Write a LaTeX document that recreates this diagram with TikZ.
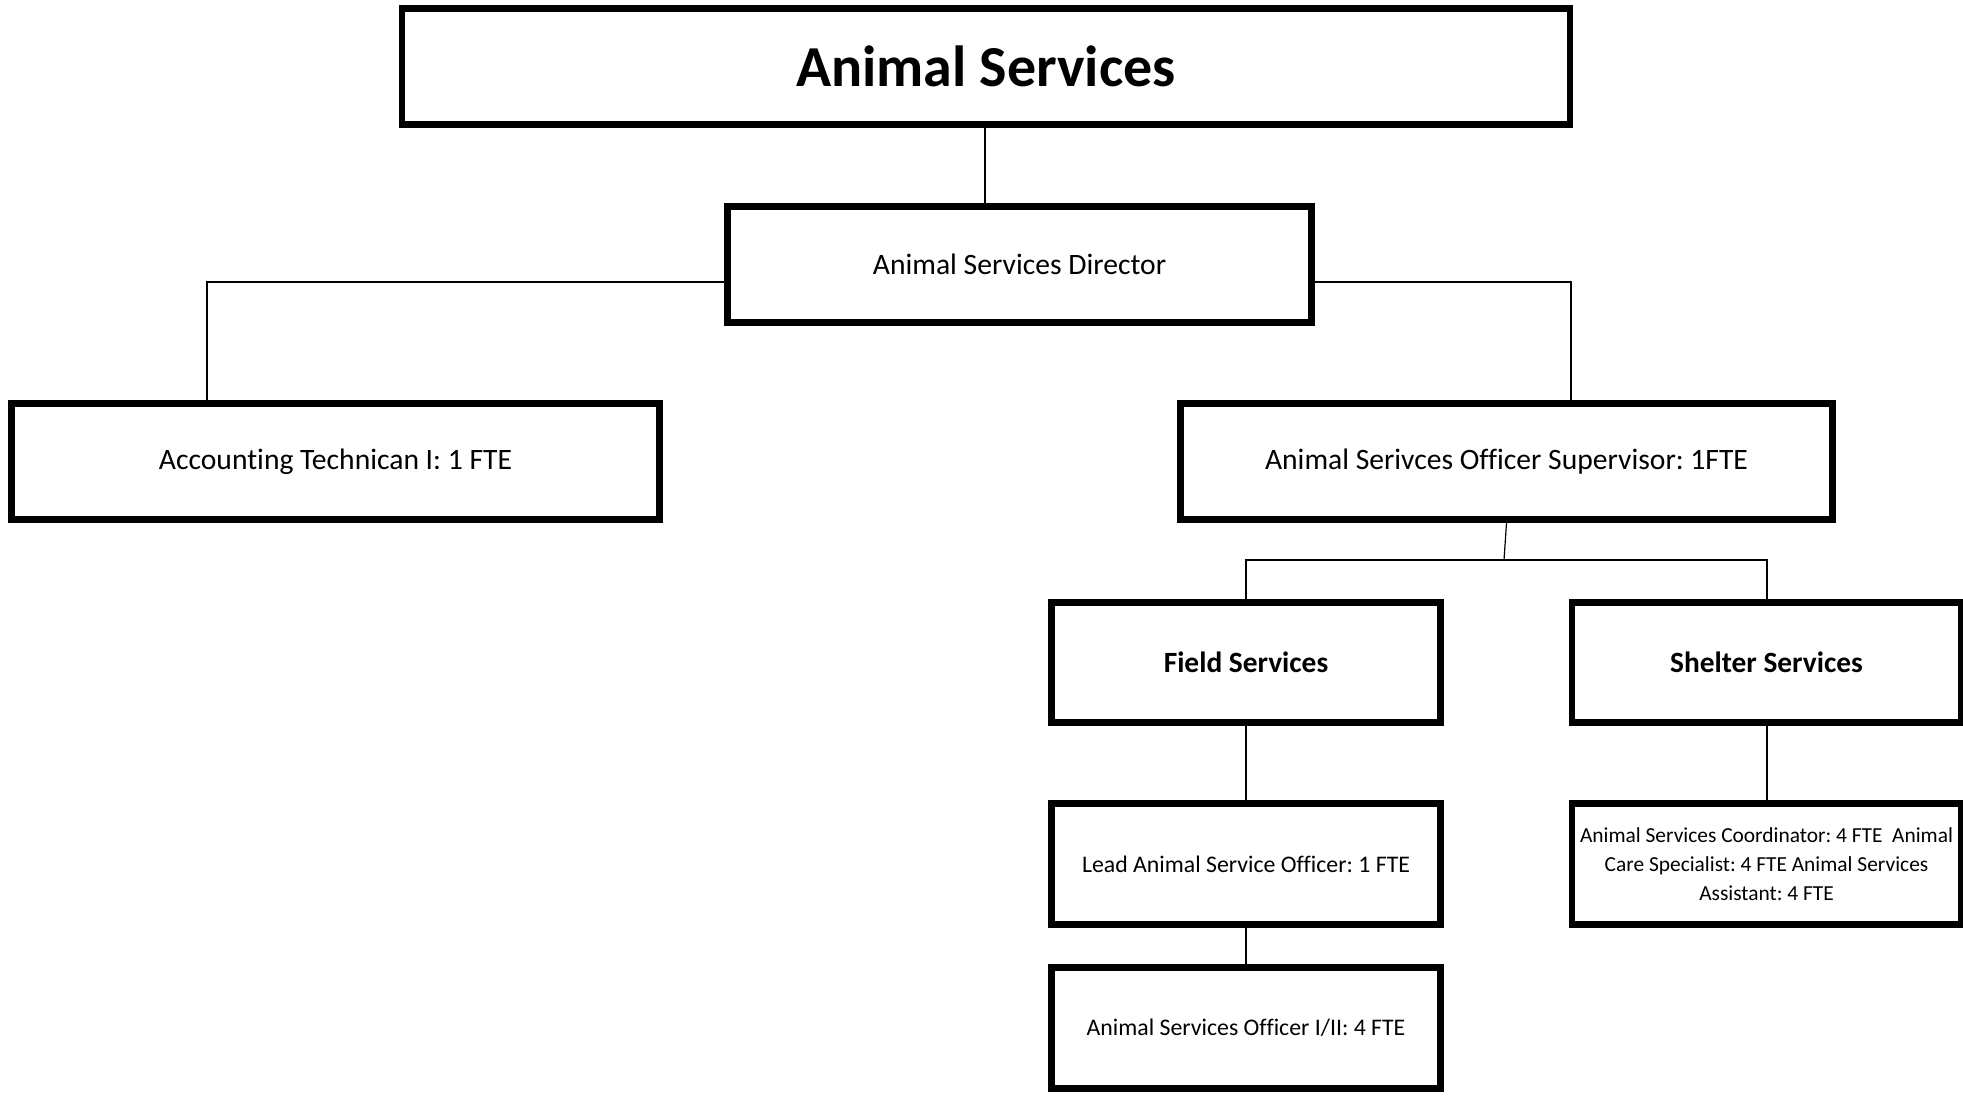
\documentclass[tikz,border=0pt]{standalone}
\usepackage{fontspec}
\setmainfont{Carlito}[Ligatures=NoCommon]
\usepackage{tikz}
\usetikzlibrary{calc}

\tikzset{
  orgbox/.style={draw,line width=3.4pt,minimum width=#1,minimum height=58pt,inner sep=0pt,align=center,font=\fontsize{14.8}{18}\selectfont},
  link/.style={line width=1pt}
}

\begin{document}
\frenchspacing
\begin{tikzpicture}[x=0.5pt,y=-0.5pt]
\useasboundingbox (0,0) rectangle (1963,1096);
% top of the chart
\node[orgbox=584pt,font=\fontsize{29}{33}\bfseries] (title) at (986,66.5) {Animal Services};
\node[orgbox=292pt] (director) at (1019.5,264.5) {Animal Services Director};
\node[orgbox=324pt] (acct) at (335.5,461.5) {Accounting Technican I: 1 FTE};
\node[orgbox=326pt] (super) at (1506.5,461.5) {Animal Serivces Officer Supervisor: 1FTE};
% the two sections
\node[orgbox=194.5pt,minimum height=60pt,font=\fontsize{14.7}{18}\bfseries] (field) at (1246,662.5) {Field Services};
\node[orgbox=194.5pt,minimum height=60pt,font=\fontsize{14.7}{18}\bfseries] (shelter) at (1766.5,662.5) {Shelter Services};
\node[orgbox=194.5pt,minimum height=60.5pt,font=\fontsize{11.9}{14}\selectfont] (lead) at (1246,864) {Lead Animal Service Officer: 1 FTE};
\node[orgbox=194.5pt,minimum height=60.5pt,font=\fontsize{11.9}{14}\selectfont] (officer) at (1246,1028) {Animal Services Officer I/II: 4 FTE};
\node[orgbox=194.5pt,minimum height=60.5pt,font=\fontsize{10.7}{14.4}\selectfont] (staff) at (1766.5,864) {Animal Services Coordinator: 4 FTE\ \ Animal\\Care Specialist: 4 FTE Animal Services\\Assistant: 4 FTE};
% connectors
\coordinate (bar) at (1504,560);
\draw[link] (title.south -| 985,0) -- (director.north -| 985,0);
\draw[link] ([yshift=-9pt]director.west) -| ([xshift=-64.5pt]acct.north);
\draw[link] ([yshift=-9pt]director.east) -| ([xshift=32pt]super.north);
\draw[line width=0.6pt] (super.south) -- (bar);
\draw[link] (field.north) |- (bar) -| (shelter.north);
\draw[link] (field.south) -- (lead.north);
\draw[link] (lead.south) -- (officer.north);
\draw[link] (shelter.south) -- (staff.north);
\end{tikzpicture}
\end{document}
